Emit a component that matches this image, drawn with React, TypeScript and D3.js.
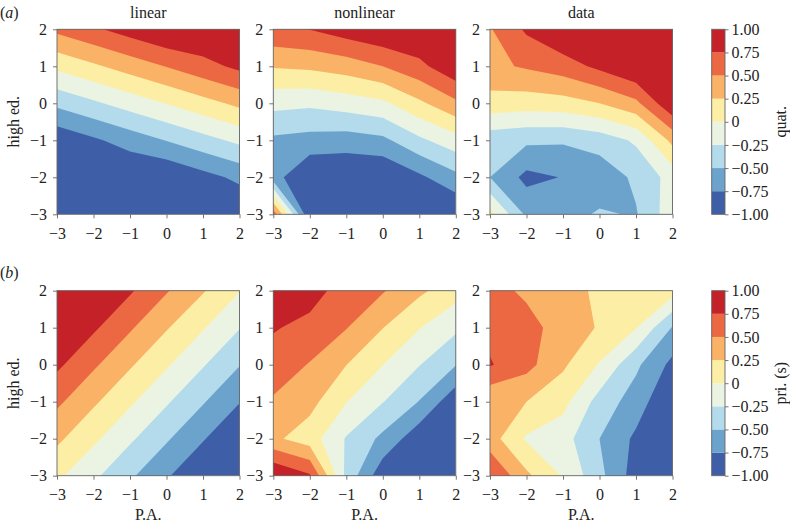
import React, { useRef, useEffect } from "react";
import * as d3 from "d3";

// Axis ticks and contour levels
const xTicks = [-3, -2, -1, 0, 1, 2];
const yTicks = [-3, -2, -1, 0, 1, 2];
const levels = [-1, -0.75, -0.5, -0.25, 0, 0.25, 0.5, 0.75, 1];
const levelLabels = ["−1.00", "−0.75", "−0.50", "−0.25", "0", "0.25", "0.50", "0.75", "1.00"];
const bandColors = ["#3f5ea8", "#6ca3cd", "#b3dbeb", "#ebf4e2", "#fcefa5", "#f9b266", "#ec6843", "#c52129"];
const columnTitles = ["linear", "nonlinear", "data"];
const rowTags = ["a", "b"];
const rowLabels = ["quat.", "pri. (s)"];

// Grids: rows are high ed. = 2 (top) ... -3 (bottom), columns are P.A. = -3 ... 2
const quatLinear = [
  [0.56, 0.71, 0.86, 1.0, 1.0, 1.0],
  [0.06, 0.21, 0.36, 0.51, 0.66, 0.81],
  [-0.44, -0.29, -0.14, 0.01, 0.16, 0.31],
  [-0.94, -0.79, -0.64, -0.49, -0.34, -0.19],
  [-1.0, -1.0, -1.0, -0.99, -0.84, -0.69],
  [-1.0, -1.0, -1.0, -1.0, -1.0, -1.0],
];
const quatNonlinear = [
  [0.7, 0.755, 0.88, 0.98, 1.0, 1.0],
  [0.27, 0.3, 0.37, 0.5, 0.68, 0.95],
  [-0.17, -0.2, -0.13, -0.05, 0.2, 0.45],
  [-0.55, -0.59, -0.62, -0.56, -0.3, -0.1],
  [-0.65, -1.0, -1.0, -1.0, -0.8, -0.57],
  [0.65, -1.0, -1.0, -1.0, -1.0, -1.0],
];
const quatData = [
  [0.48, 0.79, 1.0, 1.0, 1.0, 1.0],
  [0.44, 0.53, 0.63, 0.81, 1.0, 1.0],
  [0.15, 0.12, 0.15, 0.25, 0.44, 0.97],
  [-0.4, -0.45, -0.47, -0.39, -0.21, 0.32],
  [-0.5, -0.82, -0.74, -0.66, -0.45, -0.15],
  [0.08, -0.55, -0.6, -0.47, -0.52, -0.1],
];
const priLinear = [
  [1.0, 1.0, 0.78, 0.52, 0.27, 0.01],
  [1.0, 0.79, 0.53, 0.27, 0.02, -0.24],
  [0.8, 0.54, 0.28, 0.03, -0.23, -0.49],
  [0.55, 0.29, 0.04, -0.22, -0.48, -0.74],
  [0.3, 0.05, -0.21, -0.47, -0.73, -0.99],
  [0.05, -0.2, -0.46, -0.72, -0.98, -1.0],
];
const priNonlinear = [
  [0.95, 0.85, 0.64, 0.52, 0.3, 0.1],
  [0.77, 0.68, 0.51, 0.255, 0.01, -0.2],
  [0.64, 0.485, 0.253, 0.003, -0.24, -0.49],
  [0.47, 0.33, 0.01, -0.24, -0.51, -0.93],
  [0.3, 0.12, -0.27, -0.56, -0.92, -1.0],
  [1.0, 0.78, -0.32, -0.92, -1.0, -1.0],
];
const priData = [
  [0.6, 0.45, 0.38, 0.19, 0.15, 0.1],
  [0.68, 0.6, 0.38, 0.23, 0.01, -0.52],
  [0.77, 0.58, 0.29, -0.02, -0.45, -0.82],
  [0.28, 0.25, 0.08, -0.35, -0.62, -1.0],
  [0.36, -0.03, -0.15, -0.5, -0.8, -1.0],
  [0.76, 0.3, -0.02, -0.43, -0.87, -1.0],
];

const fmtTick = (d: number) => (d < 0 ? `−${Math.abs(d)}` : `${d}`);

const App: React.FC = () => {
  const svgRef = useRef<SVGSVGElement | null>(null);

  useEffect(() => {
    if (!svgRef.current) return;
    const svg = d3.select(svgRef.current);
    svg.selectAll("*").remove();

    const font = "'Liberation Serif', 'Times New Roman', serif";
    const panelLeft = [57, 273.3, 490];
    const panelW = 182.5;
    const rowTop = [29.3, 290.7];
    const panelH = 185;
    const cbLeft = 711.7;
    const cbW = 13.3;
    const spine = "#666";

    const rows = [
      [quatLinear, quatNonlinear, quatData],
      [priLinear, priNonlinear, priData],
    ];
    const contours = d3.contours().size([6, 6]).thresholds(levels.slice(1, -1));
    const defs = svg.append("defs");

    rows.forEach((grids, r) => {
      const top = rowTop[r];
      const y = d3.scaleLinear().domain([-3, 2]).range([top + panelH, top]);

      grids.forEach((grid, c) => {
        const left = panelLeft[c];
        const x = d3.scaleLinear().domain([-3, 2]).range([left, left + panelW]);
        const clipId = `clip-${r}-${c}`;
        defs
          .append("clipPath")
          .attr("id", clipId)
          .append("rect")
          .attr("x", left)
          .attr("y", top)
          .attr("width", panelW)
          .attr("height", panelH);

        const body = svg.append("g").attr("clip-path", `url(#${clipId})`);
        body
          .append("rect")
          .attr("x", left)
          .attr("y", top)
          .attr("width", panelW)
          .attr("height", panelH)
          .attr("fill", bandColors[0]);

        // grid value i sits at contour coordinate i + 0.5
        const toPath = (mp: d3.ContourMultiPolygon) =>
          mp.coordinates
            .map((poly) =>
              poly
                .map(
                  (ring) =>
                    "M" +
                    ring.map(([cx, cy]) => `${x(cx - 3.5)},${y(2.5 - cy)}`).join("L") +
                    "Z"
                )
                .join("")
            )
            .join("");

        contours(grid.flat()).forEach((mp, i) => {
          body
            .append("path")
            .attr("d", toPath(mp))
            .attr("fill", bandColors[i + 1])
            .attr("fill-rule", "evenodd");
        });

        // Axes
        const xAxis = svg
          .append("g")
          .attr("transform", `translate(0,${top + panelH})`)
          .call(d3.axisBottom(x).tickValues(xTicks).tickSize(4).tickPadding(9).tickFormat((d) => fmtTick(+d)));
        const yAxis = svg
          .append("g")
          .attr("transform", `translate(${left},0)`)
          .call(d3.axisLeft(y).tickValues(yTicks).tickSize(4).tickPadding(6).tickFormat((d) => fmtTick(+d)));
        [xAxis, yAxis].forEach((ax) => {
          ax.select(".domain").remove();
          ax.selectAll("line").attr("stroke", spine).attr("stroke-width", 0.9);
          ax.selectAll("text").attr("font-family", font).attr("font-size", 16).attr("fill", "#222");
        });

        svg
          .append("rect")
          .attr("x", left)
          .attr("y", top)
          .attr("width", panelW)
          .attr("height", panelH)
          .attr("fill", "none")
          .attr("stroke", spine)
          .attr("stroke-width", 0.9);

        if (r === 0) {
          svg
            .append("text")
            .attr("x", left + panelW / 2)
            .attr("y", 17.5)
            .attr("text-anchor", "middle")
            .attr("font-family", font)
            .attr("font-size", 16)
            .attr("fill", "#222")
            .text(columnTitles[c]);
        }
        if (r === 1) {
          svg
            .append("text")
            .attr("x", left + panelW / 2)
            .attr("y", 520)
            .attr("text-anchor", "middle")
            .attr("font-family", font)
            .attr("font-size", 16)
            .attr("fill", "#222")
            .text("P.A.");
        }
      });

      // Row tag and y label
      const tag = svg
        .append("text")
        .attr("x", 0)
        .attr("y", r === 0 ? 17.5 : 278)
        .attr("font-family", font)
        .attr("font-size", 16)
        .attr("fill", "#222");
      tag.append("tspan").text("(");
      tag.append("tspan").attr("font-style", "italic").text(rowTags[r]);
      tag.append("tspan").text(")");

      svg
        .append("text")
        .attr("transform", `translate(19,${top + panelH / 2}) rotate(-90)`)
        .attr("text-anchor", "middle")
        .attr("font-family", font)
        .attr("font-size", 16)
        .attr("fill", "#222")
        .text("high ed.");

      // Colorbar
      const cy = d3.scaleLinear().domain([-1, 1]).range([top + panelH, top]);
      svg
        .append("g")
        .selectAll("rect")
        .data(bandColors)
        .enter()
        .append("rect")
        .attr("x", cbLeft)
        .attr("y", (_d, i) => cy(levels[i + 1]))
        .attr("width", cbW)
        .attr("height", (_d, i) => cy(levels[i]) - cy(levels[i + 1]))
        .attr("fill", (d) => d);
      svg
        .append("rect")
        .attr("x", cbLeft)
        .attr("y", top)
        .attr("width", cbW)
        .attr("height", panelH)
        .attr("fill", "none")
        .attr("stroke", spine)
        .attr("stroke-width", 0.9);
      const cbAxis = svg
        .append("g")
        .attr("transform", `translate(${cbLeft + cbW},0)`)
        .call(
          d3
            .axisRight(cy)
            .tickValues(levels)
            .tickSize(3.5)
            .tickPadding(3)
            .tickFormat((_d, i) => levelLabels[i])
        );
      cbAxis.select(".domain").remove();
      cbAxis.selectAll("line").attr("stroke", spine).attr("stroke-width", 0.9);
      cbAxis.selectAll("text").attr("font-family", font).attr("font-size", 16).attr("fill", "#222");

      svg
        .append("text")
        .attr("transform", `translate(786,${top + panelH / 2}) rotate(-90)`)
        .attr("text-anchor", "middle")
        .attr("font-family", font)
        .attr("font-size", 16)
        .attr("fill", "#222")
        .text(rowLabels[r]);
    });

    return () => {
      svg.selectAll("*").remove();
    };
  }, []);

  return (
    <svg
      ref={svgRef}
      width={790}
      height={525}
      style={{ position: "absolute", left: 0, top: 0, background: "#fff" }}
    />
  );
};

export default App;
